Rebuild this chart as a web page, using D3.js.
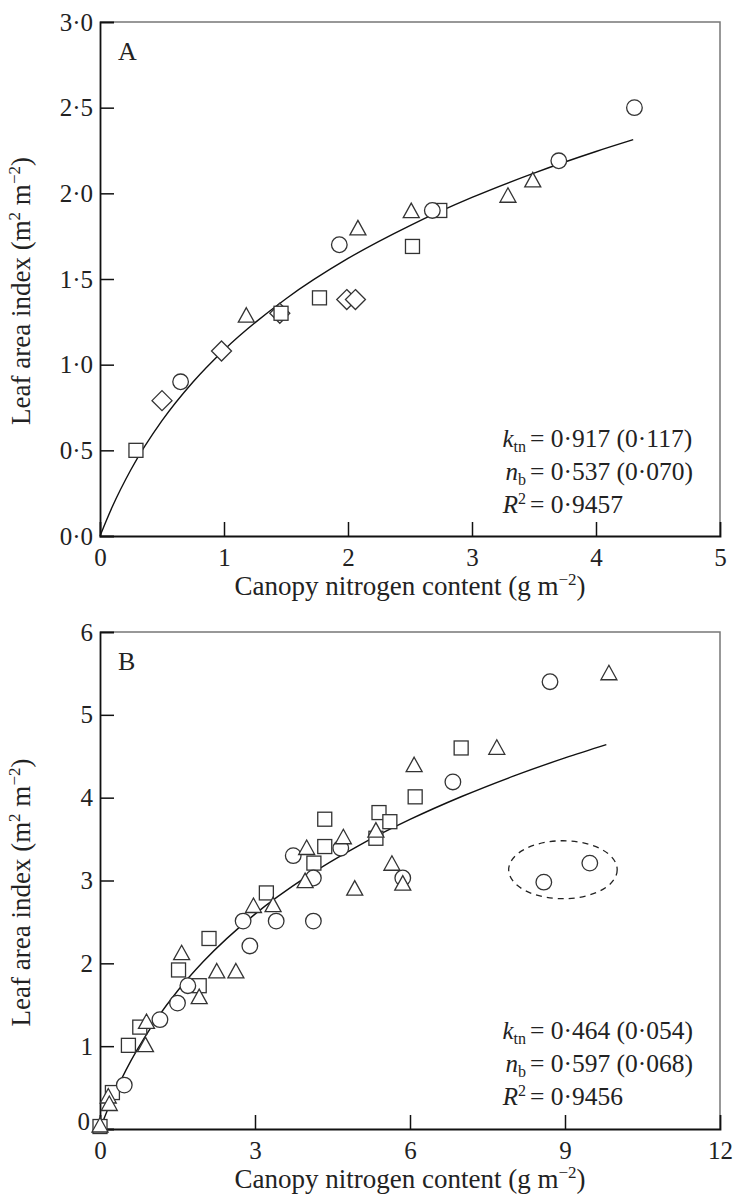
<!DOCTYPE html>
<html>
  <head>
    <style>
      body, html { margin: 0; padding: 0; background: #fff; }
      svg text { font-family: 'Liberation Serif', 'DejaVu Serif', serif; fill: #222; }
    </style>
  </head>
  <body>
    <svg id="svg" width="734" height="1199"></svg>
    <script src="https://cdn.jsdelivr.net/npm/d3@7"></script>
    <script>
      // panel A: canopy N (g m-2) vs LAI
      const aCircles = [[0.65, 0.90], [1.93, 1.70], [2.68, 1.90], [3.70, 2.19], [4.31, 2.50]];
      const aSquares = [[0.29, 0.50], [1.46, 1.30], [1.77, 1.39], [2.52, 1.69], [2.74, 1.90]];
      const aTriangles = [[1.18, 1.28], [2.08, 1.79], [2.51, 1.89], [3.29, 1.98], [3.49, 2.07]];
      const aDiamonds = [[0.50, 0.79], [0.98, 1.08], [1.45, 1.30], [1.99, 1.38], [2.06, 1.38]];
      const aFit = [[0, 0], [0.1, 0.172], [0.25, 0.388], [0.5, 0.673], [0.75, 0.899], [1, 1.086],
        [1.5, 1.385], [2, 1.62], [2.5, 1.812], [3, 1.976], [3.5, 2.118], [4, 2.244], [4.3, 2.313]];
      const aXTicks = [0, 1, 2, 3, 4, 5];
      const aYTicks = [0, 0.5, 1, 1.5, 2, 2.5, 3];
      const aStats = [['k', 'tn', '0·917 (0·117)'], ['n', 'b', '0·537 (0·070)'], ['R', '2', '0·9457']];

      // panel B
      const bCircles = [[0.47, 0.53], [1.16, 1.32], [1.50, 1.52], [1.70, 1.73], [2.77, 2.51], [2.90, 2.21],
        [3.41, 2.51], [3.74, 3.30], [4.13, 3.03], [4.13, 2.51], [4.66, 3.39], [5.86, 3.03], [6.83, 4.19],
        [8.71, 5.40], [8.59, 2.98], [9.48, 3.21]];
      const bSquares = [[0.0, 0.03], [0.24, 0.44], [0.55, 1.01], [0.77, 1.23], [1.52, 1.92], [1.92, 1.73],
        [2.11, 2.30], [3.22, 2.85], [4.14, 3.21], [4.35, 3.41], [4.35, 3.74], [5.34, 3.51], [5.40, 3.82],
        [5.61, 3.71], [6.10, 4.01], [6.99, 4.60]];
      const bTriangles = [[0.0, 0.03], [0.16, 0.38], [0.18, 0.29], [0.88, 1.00], [0.90, 1.28], [1.58, 2.11],
        [1.92, 1.58], [2.26, 1.89], [2.63, 1.89], [2.97, 2.68], [3.35, 2.69], [3.97, 2.98], [4.00, 3.38],
        [4.71, 3.51], [4.93, 2.89], [5.34, 3.59], [5.65, 3.19], [5.86, 2.95], [6.08, 4.38], [7.68, 4.59],
        [9.85, 5.49]];
      const bFit = [[0, 0], [0.1, 0.161], [0.25, 0.383], [0.5, 0.708], [1, 1.239], [1.5, 1.666], [2, 2.021],
        [3, 2.594], [4, 3.046], [5, 3.419], [6, 3.737], [7, 4.014], [8, 4.26], [9, 4.48], [9.8, 4.641]];
      const bOutlier = [8.96, 3.13, 1.05, 0.35]; // centre x, centre y, half-width, half-height
      const bXTicks = [0, 3, 6, 9, 12];
      const bYTicks = [0, 1, 2, 3, 4, 5, 6];
      const bStats = [['k', 'tn', '0·464 (0·054)'], ['n', 'b', '0·597 (0·068)'], ['R', '2', '0·9456']];

      const svg = d3.select('#svg');
      const markerStroke = '#333';
      const fs = 25;
      const fsTitle = 27;
      const fsSmall = 16;

      const shapes = {
        circle: (g) => g.append('circle').attr('r', 7.8),
        square: (g) => g.append('rect').attr('x', -7).attr('y', -7).attr('width', 14).attr('height', 14),
        triangle: (g) => g.append('path').attr('d', 'M0,-9L8,5.5L-8,5.5Z'),
        diamond: (g) => g.append('path').attr('d', 'M0,-10L10,0L0,10L-10,0Z'),
      };

      const drawPanel = (p) => {
        const x = d3.scaleLinear().domain(p.xDomain).range([100, 720]);
        const y = d3.scaleLinear().domain(p.yDomain).range([p.bottom, p.top]);
        const g = svg.append('g');

        // frame: top/right in grey
        g.append('path')
          .attr('d', `M100,${p.top}H720V${p.bottom}`)
          .attr('fill', 'none').attr('stroke', '#777').attr('stroke-width', 1.5);

        const xAxis = d3.axisBottom(x).tickValues(p.xTicks).tickSize(-14).tickPadding(12)
          .tickFormat(d3.format('d'));
        const gx = g.append('g').attr('transform', `translate(0,${p.bottom})`).call(xAxis);
        const yAxis = d3.axisLeft(y).tickValues(p.yTicks).tickSize(-14).tickPadding(22)
          .tickFormat(p.yFormat);
        const gy = g.append('g').attr('transform', 'translate(100,0)').call(yAxis);

        [gx, gy].forEach((ax) => {
          ax.select('.domain').attr('stroke', '#111').attr('stroke-width', 1.8);
          ax.selectAll('.tick line').attr('stroke', '#111').attr('stroke-width', 1.5);
          ax.selectAll('.tick text').attr('font-size', fs).attr('fill', '#222')
            .style('font-family', "'Liberation Serif', serif");
        });
        gx.selectAll('.tick line').filter((d) => d === p.xTicks[0] || d === p.xTicks[p.xTicks.length - 1]).remove();
        gy.selectAll('.tick line').filter((d) => d === p.yTicks[0] || d === p.yTicks[p.yTicks.length - 1]).remove();
        gy.selectAll('.tick text').attr('x', -7);
        if (p.raiseZero) {
          gy.selectAll('.tick text').filter((d) => d === 0).attr('dy', '0.0em').attr('x', -10);
        }

        // fit line
        const line = d3.line().x((d) => x(d[0])).y((d) => y(d[1])).curve(d3.curveMonotoneX);
        g.append('path').attr('d', line(p.fit))
          .attr('fill', 'none').attr('stroke', '#111').attr('stroke-width', 1.4);

        if (p.outlier) {
          const [cx, cy, rx, ry] = p.outlier;
          g.append('ellipse')
            .attr('cx', x(cx)).attr('cy', y(cy))
            .attr('rx', x(cx + rx) - x(cx)).attr('ry', y(cy) - y(cy + ry))
            .attr('fill', 'none').attr('stroke', '#222').attr('stroke-width', 1.3)
            .attr('stroke-dasharray', '6,5');
        }

        p.series.forEach(([name, data]) => {
          data.forEach((d) => {
            const m = g.append('g').attr('transform', `translate(${x(d[0])},${y(d[1])})`);
            shapes[name](m).attr('fill', '#fff').attr('stroke', markerStroke).attr('stroke-width', 1.3);
          });
        });

        // panel letter
        g.append('text').attr('x', 118).attr('y', p.top + 38).attr('font-size', 26).text(p.letter);

        // stats block, aligned on "="
        p.stats.forEach((s, i) => {
          const t = g.append('text').attr('x', 526).attr('y', p.statsY + i * 33)
            .attr('font-size', fs).attr('text-anchor', 'end');
          t.append('tspan').attr('font-style', 'italic').text(s[0]);
          if (s[0] === 'R') {
            t.append('tspan').attr('font-size', fsSmall).attr('dy', -9).text(s[1]);
          } else {
            t.append('tspan').attr('font-size', fsSmall).attr('dy', 5).text(s[1]);
          }
          g.append('text').attr('x', 530).attr('y', p.statsY + i * 33).attr('font-size', 25.5)
            .text('= ' + s[2]);
        });

        // axis titles
        const xt = g.append('text').attr('x', 410).attr('y', p.bottom + 59)
          .attr('text-anchor', 'middle').attr('font-size', fsTitle);
        xt.append('tspan').text('Canopy nitrogen content (g m');
        xt.append('tspan').attr('font-size', 17).attr('dy', -10).text('−2');
        xt.append('tspan').attr('dy', 10).text(')');

        const cy = (p.top + p.bottom) / 2 + 12;
        const yt = g.append('text').attr('transform', `translate(30,${cy}) rotate(-90)`)
          .attr('text-anchor', 'middle').attr('font-size', fsTitle);
        yt.append('tspan').text('Leaf area index (m');
        yt.append('tspan').attr('font-size', 17).attr('dy', -10).text('2');
        yt.append('tspan').attr('dy', 10).text(' m');
        yt.append('tspan').attr('font-size', 17).attr('dy', -10).text('−2');
        yt.append('tspan').attr('dy', 10).text(')');
      };

      drawPanel({
        letter: 'A', top: 22, bottom: 536, xDomain: [0, 5], yDomain: [0, 3],
        xTicks: aXTicks, yTicks: aYTicks, yFormat: (d) => d3.format('.1f')(d).replace('.', '·'),
        fit: aFit, stats: aStats, statsY: 447,
        series: [['diamond', aDiamonds], ['square', aSquares], ['circle', aCircles], ['triangle', aTriangles]],
      });
      drawPanel({
        letter: 'B', top: 632, bottom: 1129, xDomain: [0, 12], yDomain: [0, 6],
        xTicks: bXTicks, yTicks: bYTicks, yFormat: d3.format('d'), raiseZero: true,
        fit: bFit, stats: bStats, statsY: 1039, outlier: bOutlier,
        series: [['square', bSquares], ['circle', bCircles], ['triangle', bTriangles]],
      });
    </script>
  </body>
</html>
